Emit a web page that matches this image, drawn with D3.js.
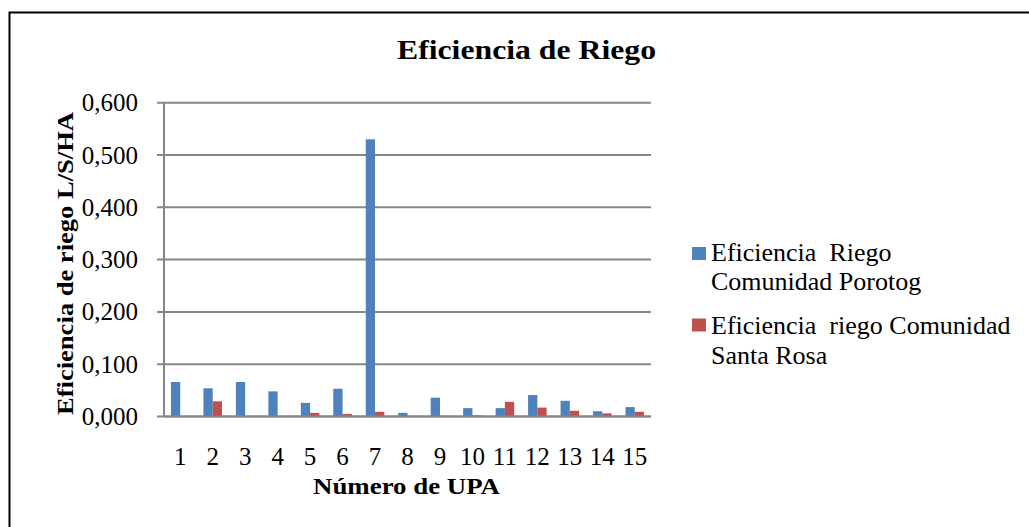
<!DOCTYPE html>
<html>
<head>
<meta charset="utf-8">
<script src="https://cdn.jsdelivr.net/npm/d3@7"></script>
<style>
  body { margin: 0; background: #fff; }
  svg { font-family: "Liberation Serif", "Times New Roman", serif; }
  .grid line { stroke: #868686; stroke-width: 2; }
</style>
</head>
<body>
<div id="chart"></div>
<script>
const upa = ["1","2","3","4","5","6","7","8","9","10","11","12","13","14","15"];
const porotog = [0.066, 0.054, 0.066, 0.048, 0.026, 0.053, 0.530, 0.007, 0.036, 0.016, 0.016, 0.041, 0.030, 0.010, 0.018];
const santaRosa = [0.000, 0.029, 0.000, 0.000, 0.007, 0.005, 0.009, 0.001, 0.001, 0.002, 0.028, 0.017, 0.011, 0.006, 0.009];
const seriesNames = ["Eficiencia  Riego Comunidad Porotog", "Eficiencia  riego Comunidad Santa Rosa"];
const colors = ["#4F81BD", "#C0504D"];
const yTicks = [0, 0.1, 0.2, 0.3, 0.4, 0.5, 0.6];

const width = 1029, height = 527;
const svg = d3.select("#chart").append("svg")
    .attr("width", width).attr("height", height);

// outer frame (only top/left visible in the picture)
svg.append("rect")
    .attr("x", 9.5).attr("y", 12.5)
    .attr("width", 1040).attr("height", 540)
    .attr("fill", "none").attr("stroke", "#000").attr("stroke-width", 2);

const x = d3.scaleBand().domain(upa).range([164, 651])
    .paddingInner(0.4286).paddingOuter(0.2143);
const xSub = d3.scaleBand().domain([0, 1]).range([0, x.bandwidth()]);
const y = d3.scaleLinear().domain([0, 0.6]).range([416.5, 102.7]);

const fmt = v => d3.format(".3f")(v).replace(".", ",");

// gridlines + ticks
const grid = svg.append("g").attr("class", "grid");
grid.selectAll("line.g").data(yTicks).join("line")
    .attr("class", "g")
    .attr("x1", 157).attr("x2", 651)
    .attr("y1", d => y(d)).attr("y2", d => y(d));

svg.append("g").selectAll("text").data(yTicks).join("text")
    .attr("x", 138).attr("y", d => y(d) + 8.5)
    .attr("text-anchor", "end")
    .attr("font-size", 25)
    .text(fmt);

// y axis line
svg.append("line")
    .attr("x1", 164).attr("x2", 164)
    .attr("y1", y(0.6)).attr("y2", y(0))
    .attr("stroke", "#868686").attr("stroke-width", 2);

// bars
const groups = svg.append("g").selectAll("g").data(upa).join("g")
    .attr("transform", d => `translate(${x(d)},0)`);

groups.selectAll("rect")
    .data((d, i) => [porotog[i], santaRosa[i]])
    .join("rect")
    .attr("x", (d, j) => xSub(j))
    .attr("width", xSub.bandwidth())
    .attr("y", d => y(d))
    .attr("height", d => y(0) - y(d))
    .attr("fill", (d, j) => colors[j]);

// x axis baseline
svg.append("line")
    .attr("x1", 164).attr("x2", 651)
    .attr("y1", y(0)).attr("y2", y(0))
    .attr("stroke", "#868686").attr("stroke-width", 2);

// x labels
svg.append("g").selectAll("text").data(upa).join("text")
    .attr("x", d => x(d) + x.bandwidth() / 2)
    .attr("y", 465)
    .attr("text-anchor", "middle")
    .attr("font-size", 25)
    .text(d => d);

// titles (bold text in the picture runs wider than Times metrics)
svg.append("text")
    .attr("x", 526.5).attr("y", 59)
    .attr("text-anchor", "middle")
    .attr("font-size", 28).attr("font-weight", "bold")
    .attr("textLength", 259).attr("lengthAdjust", "spacingAndGlyphs")
    .text("Eficiencia de Riego");

svg.append("text")
    .attr("x", 406.5).attr("y", 494)
    .attr("text-anchor", "middle")
    .attr("font-size", 23).attr("font-weight", "bold")
    .attr("textLength", 187).attr("lengthAdjust", "spacingAndGlyphs")
    .text("Número de UPA");

svg.append("text")
    .attr("transform", "translate(73,263.5) rotate(-90)")
    .attr("text-anchor", "middle")
    .attr("font-size", 23).attr("font-weight", "bold")
    .attr("textLength", 303).attr("lengthAdjust", "spacingAndGlyphs")
    .text("Eficiencia de riego L/S/HA");

// legend
const legendLines = [["Eficiencia  Riego", "Comunidad Porotog"], ["Eficiencia  riego Comunidad", "Santa Rosa"]];
const legendTop = [247, 318.5];
const legendBase = [260.5, 334];
const leg = svg.append("g").selectAll("g").data(seriesNames).join("g");
leg.append("rect")
    .attr("x", 692).attr("y", (d, i) => legendTop[i])
    .attr("width", 14).attr("height", 13)
    .attr("fill", (d, i) => colors[i]);
leg.each(function(d, i) {
  const t = d3.select(this).append("text")
      .attr("x", 711).attr("y", legendBase[i])
      .attr("font-size", 26).style("white-space", "pre");
  legendLines[i].forEach((ln, k) => {
    t.append("tspan").attr("x", 711).attr("dy", k === 0 ? 0 : 29.5).text(ln);
  });
});
</script>
</body>
</html>
